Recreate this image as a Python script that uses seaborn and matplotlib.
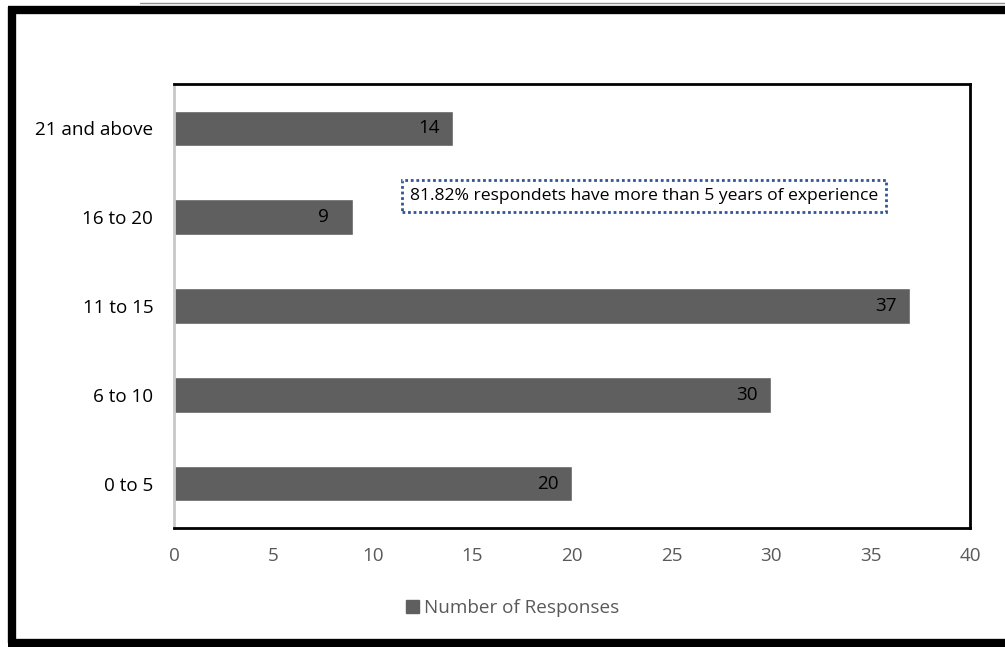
import matplotlib
matplotlib.use("Agg")
import matplotlib.pyplot as plt
from matplotlib.lines import Line2D
from matplotlib.patches import Patch
import seaborn as sns
import pandas as pd

categories = ["21 and above", "16 to 20", "11 to 15", "6 to 10", "0 to 5"]
responses = [14, 9, 37, 30, 20]
x_ticks = [0, 5, 10, 15, 20, 25, 30, 35, 40]
series_name = "Number of Responses"
note = "81.82% respondets have more than 5 years of experience"

sns.set_theme(style="white")
plt.rcParams["font.family"] = ["Open Sans", "DejaVu Sans"]

df = pd.DataFrame({"Experience": categories, series_name: responses})

fig = plt.figure(figsize=(10.05, 6.47), dpi=100)
ax = fig.add_axes([174 / 1005, 1 - 528 / 647, (970 - 174) / 1005, (528 - 84) / 647])

bar_color = "#5f5f5f"
fs = 13.6
sns.barplot(data=df, y="Experience", x=series_name, order=categories,
            color=bar_color, width=0.4, ax=ax, saturation=1)

ax.set_xlim(0, 40)
ax.set_xticks(x_ticks)
ax.set_xticklabels([str(t) for t in x_ticks], color="#595959", fontsize=fs)
ax.tick_params(axis="x", length=0, pad=14)
ax.tick_params(axis="y", length=0, pad=15, labelsize=fs, labelcolor="#000000")
ax.set_xlabel("")
ax.set_ylabel("")

for side in ["top", "right", "bottom"]:
    ax.spines[side].set_color("black")
    ax.spines[side].set_linewidth(2)
ax.spines["left"].set_color("#c8c8c8")
ax.spines["left"].set_linewidth(2)

for container in ax.containers:
    ax.bar_label(container, labels=[str(v) for v in responses], padding=-25,
                 fontsize=fs, color="black")

ax.text(0.59, 0.748, note, transform=ax.transAxes, ha="center", va="center",
        fontsize=12.6, color="black",
        bbox=dict(boxstyle="square,pad=0.45", facecolor="white",
                  edgecolor="#2f5597", linestyle=(0, (1, 1)), linewidth=2))

handle = Patch(facecolor=bar_color, edgecolor=bar_color, label=series_name)
fig.legend(handles=[handle], loc="center", bbox_to_anchor=(513 / 1005, 1 - 608 / 647),
           frameon=False, fontsize=fs, labelcolor="#595959",
           handlelength=0.65, handleheight=0.65, handletextpad=0.3)

# outer frame
frame_kw = dict(color="black", linewidth=6, transform=fig.transFigure, solid_capstyle="butt")
fig.add_artist(Line2D([12 / 1005, 12 / 1005], [1 - 7 / 647, 1 - 643 / 647], **frame_kw))
fig.add_artist(Line2D([8 / 1005, 1.0], [1 - 10 / 647, 1 - 10 / 647], **frame_kw))
fig.add_artist(Line2D([8 / 1005, 1.0], [1 - 643 / 647, 1 - 643 / 647], **frame_kw))
fig.add_artist(Line2D([140 / 1005, 1.0], [1 - 3 / 647, 1 - 3 / 647], color="#909090",
                      linewidth=1, transform=fig.transFigure))

fig.savefig("out.png", dpi=100, facecolor="white")
